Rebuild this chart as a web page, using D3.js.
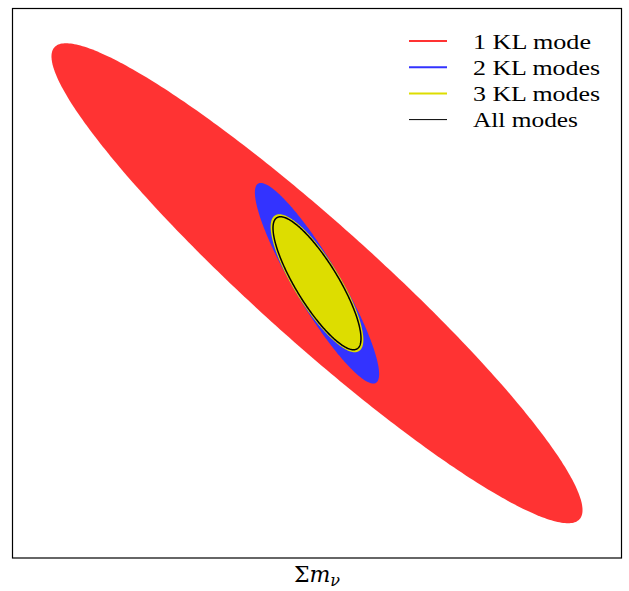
<!DOCTYPE html>
<html>
<head>
<meta charset="utf-8">
<script src="https://cdn.jsdelivr.net/npm/d3@7"></script>
<style>
  html, body { margin: 0; padding: 0; background: #fff; }
  svg { display: block; }
</style>
</head>
<body>
<svg id="chart" width="629" height="591"></svg>
<script>
// Forecast confidence ellipses in the (Σmν, second parameter) plane,
// one per number of KL modes kept. Each ellipse: centre, half-extent
// along each axis (data units), and correlation coefficient.
const labels  = ["1 KL mode", "2 KL modes", "3 KL modes", "All modes"];
const centerX = [0, 0, 0, 0];
const centerY = [0, 0, 0, 0];
const extentX = [0.872, 0.204, 0.149, 0.1445];
const extentY = [0.8735, 0.365, 0.2475, 0.242];
const corr    = [-0.945, -0.905, -0.83, -0.83];
const fills   = ["#ff3333", "#3333ff", "#dddd00", "none"];
const strokes = ["none", "none", "#dddd00", "#000000"];
const legendColors = ["#ff3333", "#3333ff", "#dddd00", "#000000"];
const legendWidths = [2, 2, 2, 1];

const xDomain = [-1, 1];
const yDomain = [-1, 1];

const svg = d3.select("#chart");
const plot = { left: 12.5, top: 8.5, right: 621.5, bottom: 558 };

const x = d3.scaleLinear().domain(xDomain).range([plot.left, plot.right]);
const y = d3.scaleLinear().domain(yDomain).range([plot.bottom, plot.top]);

// parametric ellipse from the correlated-Gaussian parameters
function ellipsePoints(i) {
  const s = Math.sqrt(1 - corr[i] * corr[i]);
  return d3.range(0, 361).map(deg => {
    const t = deg * Math.PI / 180;
    const u = Math.cos(t), v = Math.sin(t);
    return [centerX[i] + extentX[i] * u,
            centerY[i] + extentY[i] * (corr[i] * u + s * v)];
  });
}

const line = d3.line()
  .x(d => x(d[0]))
  .y(d => y(d[1]))
  .curve(d3.curveLinearClosed);

const g = svg.append("g");
labels.forEach((lab, i) => {
  g.append("path")
    .attr("d", line(ellipsePoints(i)))
    .attr("fill", fills[i])
    .attr("stroke", strokes[i])
    .attr("stroke-width", i === 3 ? 1.5 : 2)
    .attr("stroke-linejoin", "round");
});

// frame without ticks
svg.append("rect")
  .attr("x", plot.left)
  .attr("y", plot.top)
  .attr("width", plot.right - plot.left)
  .attr("height", plot.bottom - plot.top)
  .attr("fill", "none")
  .attr("stroke", "#000")
  .attr("stroke-width", 1.2);

// legend
const legend = svg.append("g").attr("transform", "translate(409,41)");
const rowGap = 26.2;
const textWidths = [118, 127, 127, 105];
labels.forEach((lab, i) => {
  const row = legend.append("g").attr("transform", `translate(0,${i * rowGap})`);
  row.append("line")
    .attr("x1", 0).attr("x2", 38)
    .attr("y1", 0).attr("y2", 0)
    .attr("stroke", legendColors[i])
    .attr("stroke-width", legendWidths[i]);
  row.append("text")
    .attr("x", 64)
    .attr("y", 7.5)
    .attr("font-family", "'Liberation Serif', serif")
    .attr("font-size", 21.5)
    .attr("textLength", textWidths[i])
    .attr("lengthAdjust", "spacingAndGlyphs")
    .attr("fill", "#000")
    .text(lab);
});

// x axis label
const xl = svg.append("text")
  .attr("x", (plot.left + plot.right) / 2)
  .attr("y", 582)
  .attr("text-anchor", "middle")
  .attr("font-family", "'DejaVu Serif', serif")
  .attr("font-size", 22)
  .attr("fill", "#000");
xl.append("tspan").text("Σ");
xl.append("tspan").attr("font-style", "italic").text("m");
xl.append("tspan").attr("font-style", "italic").attr("font-size", 16).attr("dy", 4).text("ν");
</script>
</body>
</html>
